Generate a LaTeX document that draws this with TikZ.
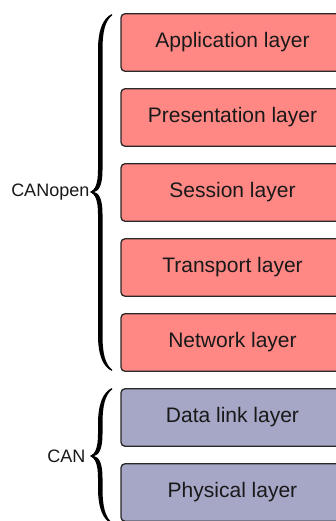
\documentclass[tikz,border=0pt]{standalone}
\usepackage{fontspec}
\setmainfont{Liberation Sans}
\definecolor{upperfill}{RGB}{255,136,132}
\definecolor{lowerfill}{RGB}{166,166,198}
\definecolor{edgecol}{RGB}{40,40,40}
% calligraphic curly brace opening to the right: #1 top, #2 tip, #3 bottom (y values)
\newcommand\calbrace[3]{%
  \fill (112,#1) .. controls (103,{#1+4}) and (98,{#1+16}) .. (98,{#1+36})
    -- (98,{#2-22}) .. controls (98,{#2-8}) and (95,{#2-2}) .. (90,#2)
    .. controls (95,{#2+2}) and (98,{#2+8}) .. (98,{#2+22})
    -- (98,{#3-36}) .. controls (98,{#3-16}) and (103,{#3-4}) .. (112,#3)
    -- (112,{#3-1.5}) .. controls (105,{#3-7}) and (102.5,{#3-18}) .. (102.5,{#3-36})
    -- (102.5,{#2+22}) .. controls (102.5,{#2+6}) and (98.5,{#2+1}) .. (94,#2)
    .. controls (98.5,{#2-1}) and (102.5,{#2-6}) .. (102.5,{#2-22})
    -- (102.5,{#1+36}) .. controls (102.5,{#1+18}) and (105,{#1+7}) .. (112,{#1+1.5})
    -- cycle;}
\begin{document}
\begin{tikzpicture}[x=1pt,y=-1pt,
  layer/.style={draw=edgecol, line width=1.3pt, rounded corners=4pt,
    minimum width=223pt, minimum height=57.5pt, inner sep=0pt,
    font=\fontsize{21}{25}\selectfont, text=black!90},
  upper/.style={layer, fill=upperfill},
  lower/.style={layer, fill=lowerfill},
  grouplabel/.style={anchor=east, inner sep=0pt,
    font=\fontsize{18}{22}\selectfont, text=black!90}]
\useasboundingbox (0,0) rectangle (336,521);
\clip (0,0) rectangle (336,521);
\fill[white] (0,0) rectangle (336,521);

% protocol stack
\node[upper] (app)  at (232.5,42.5)  {Application layer};
\node[upper] (pres) at (232.5,117.5) {Presentation layer};
\node[upper] (sess) at (232.5,192.5) {Session layer};
\node[upper] (trans) at (232.5,267.5) {Transport layer};
\node[upper] (net)  at (232.5,342.5) {Network layer};
\node[lower] (dll)  at (232.5,417.5) {Data link layer};
\node[lower] (phy)  at (232.5,492.5) {Physical layer};

% groupings
\calbrace{14}{192}{371}
\calbrace{388}{456}{524}
\node[grouplabel] (canopen) at (89.5,192) {CANopen};
\node[grouplabel] (can) at (85.5,456) {CAN};
\end{tikzpicture}
\end{document}
